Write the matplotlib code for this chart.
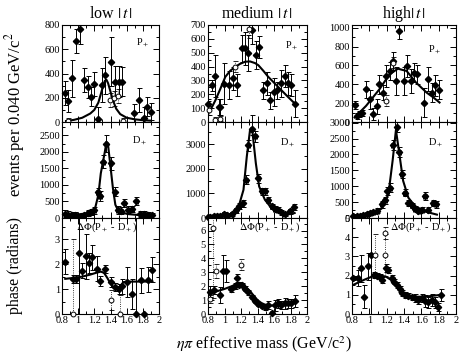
import matplotlib
matplotlib.use("Agg")
import matplotlib.pyplot as plt
from matplotlib.ticker import MultipleLocator, FuncFormatter

plt.rcParams['font.family'] = ['Liberation Serif', 'DejaVu Serif']
plt.rcParams['mathtext.fontset'] = 'stix'

# ---------------- data ----------------
col_titles = [r"low $|\,t\,|$", r"medium $|\,t\,|$", r"high$|\,t\,|$"]

# low |t|, P+
lo_P_x = [0.84, 0.88, 0.92, 0.97, 1.02, 1.07, 1.12, 1.16, 1.20, 1.24, 1.29, 1.33, 1.41, 1.46, 1.50, 1.54, 1.69, 1.75, 1.81, 1.85, 1.90]
lo_P_y = [242, 173, 360, 671, 765, 347, 292, 209, 311, 22, 305, 385, 498, 333, 333, 333, 72, 182, 30, 127, 85]
lo_P_e = [100, 90, 150, 100, 120, 100, 90, 80, 100, 100, 140, 150, 200, 130, 130, 120, 80, 100, 90, 80, 70]
lo_P_cx = [0.88, 1.39, 1.44, 1.49, 1.56]
lo_P_cy = [10, 181, 195, 215, 10]
lo_P_ce = [20, 60, 60, 60, 20]
lo_P_fx = [0.85, 0.95, 1.05, 1.15, 1.20, 1.25, 1.28, 1.31, 1.33, 1.35, 1.37, 1.40, 1.43, 1.47, 1.52, 1.60, 1.70, 1.80, 1.90]
lo_P_fy = [8, 18, 35, 70, 100, 160, 230, 300, 340, 348, 320, 250, 180, 110, 65, 35, 22, 15, 11]

# low |t|, D+
lo_D_x = [0.84, 0.88, 0.92, 0.96, 1.02, 1.07, 1.12, 1.16, 1.20, 1.24, 1.27, 1.31, 1.35, 1.40, 1.45, 1.49, 1.53, 1.57, 1.62, 1.67, 1.72, 1.77, 1.82, 1.86, 1.91]
lo_D_y = [130, 100, 100, 100, 0, 80, 150, 180, 230, 800, 670, 1700, 2250, 1650, 800, 250, 220, 450, 250, 270, 520, 130, 120, 100, 80]
lo_D_e = [100, 100, 90, 90, 80, 80, 90, 100, 100, 120, 150, 200, 250, 200, 150, 120, 100, 120, 100, 100, 120, 90, 90, 80, 80]
lo_D_fx = [0.85, 1.00, 1.15, 1.21, 1.25, 1.28, 1.33, 1.35, 1.37, 1.40, 1.43, 1.46, 1.50, 1.61, 1.75, 1.90]
lo_D_fy = [100, 110, 150, 300, 700, 1350, 2000, 2300, 2200, 1550, 900, 400, 200, 120, 90, 70]

# low |t|, phase
lo_F_x = [0.84, 0.93, 0.97, 1.01, 1.05, 1.10, 1.13, 1.17, 1.23, 1.275, 1.33, 1.40, 1.45, 1.50, 1.545, 1.61, 1.67, 1.72, 1.775, 1.82, 1.86, 1.91]
lo_F_y = [2.1, 1.41, 1.41, 2.43, 1.74, 2.31, 2.03, 2.27, 1.81, 1.32, 1.81, 1.28, 1.08, 1.02, 1.11, 1.28, 0.79, 0.0, 1.35, 0.0, 1.37, 1.78]
lo_F_e = [0.5, 0.15, 0.15, 2.5, 0.3, 0.9, 0.4, 0.5, 0.5, 0.2, 0.15, 0.2, 0.15, 0.2, 0.3, 0.6, 0.6, 4.0, 0.5, 0.0, 0.5, 0.5]
lo_F_cx = [0.93, 1.41, 1.52]
lo_F_cy = [0.0, 0.55, 0.0]
lo_F_ce = [3.0, 0.4, 0.75]
lo_F_fx = [0.84, 0.95, 1.05, 1.15, 1.22, 1.28, 1.32, 1.36, 1.40, 1.44, 1.48, 1.52, 1.56, 1.65, 1.75, 1.85, 1.92]
lo_F_fy = [1.41, 1.45, 1.50, 1.58, 1.65, 1.70, 1.65, 1.45, 1.22, 1.05, 1.02, 1.12, 1.28, 1.30, 1.30, 1.30, 1.30]

# medium |t|, P+
me_P_x = [0.80, 0.85, 0.89, 0.93, 0.95, 0.99, 1.06, 1.10, 1.15, 1.21, 1.25, 1.29, 1.33, 1.33, 1.38, 1.42, 1.47, 1.51, 1.55, 1.60, 1.64, 1.69, 1.73, 1.77, 1.81, 1.86]
me_P_y = [128, 265, 331, 109, 109, 277, 265, 314, 265, 531, 531, 495, 665, -48, 483, 543, 229, 278, 157, 217, 229, 278, 331, 278, 265, 133]
me_P_e = [40, 40, 150, 60, 60, 150, 100, 80, 80, 100, 120, 130, 100, 100, 100, 80, 60, 80, 60, 100, 60, 100, 80, 80, 80, 100]
me_P_cx = [0.81, 0.89, 0.95, 1.13, 1.30]
me_P_cy = [84, 17, 24, 400, 669]
me_P_ce = [30, 20, 20, 40, 60]
me_P_fx = [0.80, 0.85, 0.89, 0.95, 1.01, 1.07, 1.13, 1.19, 1.25, 1.31, 1.37, 1.41, 1.47, 1.53, 1.59, 1.65, 1.71, 1.77, 1.84]
me_P_fy = [60, 110, 157, 240, 326, 370, 398, 420, 435, 437, 425, 410, 370, 326, 290, 253, 217, 181, 140]

# medium |t|, D+
me_D_x = [0.80, 0.83, 0.87, 0.905, 0.945, 0.99, 1.03, 1.09, 1.14, 1.18, 1.22, 1.26, 1.29, 1.33, 1.37, 1.41, 1.45, 1.49, 1.53, 1.57, 1.61, 1.65, 1.69, 1.73, 1.79, 1.84]
me_D_y = [27, 27, 67, 67, 94, 161, 134, 161, 310, 500, 600, 1550, 2960, 3630, 3320, 1610, 1080, 1080, 740, 470, 380, 340, 230, 160, 270, 440]
me_D_e = [60, 60, 60, 60, 70, 80, 80, 80, 100, 120, 150, 180, 220, 250, 220, 180, 150, 130, 120, 100, 100, 100, 90, 90, 100, 120]
me_D_fx = [0.80, 1.09, 1.17, 1.23, 1.27, 1.31, 1.34, 1.38, 1.42, 1.49, 1.57, 1.67, 1.75, 1.85]
me_D_fy = [27, 135, 444, 1143, 2490, 3590, 3460, 2220, 1280, 740, 400, 200, 135, 200]

# medium |t|, phase
me_F_x = [0.82, 0.87, 0.945, 0.98, 1.02, 1.075, 1.13, 1.155, 1.18, 1.21, 1.25, 1.29, 1.33, 1.37, 1.41, 1.45, 1.49, 1.53, 1.57, 1.61, 1.65, 1.69, 1.73, 1.77, 1.81, 1.85]
me_F_y = [1.6, 1.71, 1.36, 3.07, 3.07, 1.79, 2.02, 2.6, 2.12, 2.07, 1.83, 1.55, 1.24, 0.93, 0.69, 0.6, 0.52, 0.64, 0.05, 0.64, 0.76, 0.64, 0.76, 0.76, 0.76, 0.93]
me_F_e = [0.4, 0.3, 0.6, 1.2, 0.8, 0.2, 0.2, 0.3, 0.15, 0.15, 0.15, 0.15, 0.15, 0.15, 0.15, 0.15, 0.2, 0.3, 0.2, 0.4, 0.3, 0.3, 0.4, 0.3, 0.3, 0.4]
me_F_cx = [0.82, 0.86, 0.90, 1.20]
me_F_cy = [1.07, 6.17, 3.07, 3.55]
me_F_ce = [0.3, 5.0, 0.5, 0.4]
me_F_fx = [0.81, 0.90, 1.00, 1.08, 1.15, 1.19, 1.25, 1.30, 1.35, 1.40, 1.45, 1.50, 1.55, 1.62, 1.70, 1.78, 1.85]
me_F_fy = [1.48, 1.62, 1.80, 1.98, 2.15, 2.19, 2.00, 1.70, 1.35, 1.00, 0.78, 0.65, 0.60, 0.62, 0.68, 0.75, 0.83]

# high |t|, P+
hi_P_x = [0.83, 0.855, 0.886, 0.917, 0.963, 1.009, 1.047, 1.086, 1.117, 1.155, 1.194, 1.24, 1.27, 1.309, 1.347, 1.405, 1.43, 1.48, 1.52, 1.547, 1.636, 1.674, 1.724, 1.762, 1.809]
hi_P_y = [178, 66, 84, 94, 348, 242, 84, 165, 401, 313, 489, 542, 648, 436, 965, 436, 595, 436, 525, 507, 207, 454, 313, 390, 341]
hi_P_e = [40, 30, 30, 30, 90, 100, 60, 80, 100, 80, 120, 100, 100, 150, 80, 150, 120, 130, 100, 100, 150, 130, 100, 110, 100]
hi_P_cx = [1.19, 1.27]
hi_P_cy = [225, 630]
hi_P_ce = [60, 60]
hi_P_fx = [0.83, 0.963, 1.117, 1.233, 1.33, 1.43, 1.54, 1.66, 1.74, 1.81]
hi_P_fy = [48, 172, 348, 507, 566, 542, 418, 313, 260, 207]

# high |t|, D+
hi_D_x = [0.815, 0.853, 0.892, 0.93, 0.969, 1.007, 1.046, 1.092, 1.142, 1.18, 1.207, 1.238, 1.269, 1.315, 1.346, 1.373, 1.41, 1.45, 1.49, 1.527, 1.566, 1.605, 1.643, 1.682, 1.732, 1.77]
hi_D_y = [53, 74, 74, 106, 128, 160, 191, 234, 425, 553, 851, 958, 2290, 2870, 2070, 1380, 800, 480, 404, 298, 234, 266, 690, 266, 480, 425]
hi_D_e = [60, 60, 60, 60, 60, 70, 70, 80, 100, 100, 120, 130, 150, 180, 150, 130, 100, 90, 80, 80, 80, 80, 120, 80, 100, 100]
hi_D_fx = [0.815, 1.046, 1.142, 1.22, 1.269, 1.307, 1.346, 1.39, 1.45, 1.527, 1.66, 1.78]
hi_D_fy = [32, 128, 298, 745, 1810, 2770, 2020, 1170, 640, 372, 191, 106]

# high |t|, phase
hi_F_x = [0.815, 0.865, 0.904, 0.942, 0.98, 1.02, 1.057, 1.085, 1.123, 1.15, 1.189, 1.22, 1.258, 1.288, 1.315, 1.354, 1.38, 1.41, 1.45, 1.49, 1.527, 1.565, 1.604, 1.642, 1.68, 1.72, 1.757, 1.795, 1.826]
hi_F_y = [1.87, 1.87, 2.39, 0.91, 2.48, 3.09, 2.04, 2.0, 1.95, 1.78, 2.39, 2.3, 1.87, 1.69, 1.52, 1.31, 1.08, 1.0, 0.96, 0.86, 0.82, 0.73, 0.82, 0.68, 0.61, 0.73, 0.61, 0.38, 1.0]
hi_F_e = [0.1, 0.4, 0.7, 0.6, 0.7, 3.2, 0.15, 0.15, 0.15, 0.15, 0.2, 0.15, 0.15, 0.15, 0.15, 0.15, 0.15, 0.15, 0.15, 0.15, 0.2, 0.2, 0.2, 0.3, 0.3, 0.3, 0.3, 0.2, 0.3]
hi_F_cx = [1.065, 1.18, 1.18]
hi_F_cy = [3.09, 3.09, 4.22]
hi_F_ce = [1.1, 1.1, 0.3]
hi_F_fx = [0.815, 0.94, 1.08, 1.19, 1.26, 1.33, 1.39, 1.49, 1.64, 1.83]
hi_F_fy = [1.52, 1.78, 2.04, 1.95, 1.75, 1.40, 1.08, 0.90, 0.90, 1.00]

x_ticks = [0.8, 1.0, 1.2, 1.4, 1.6, 1.8, 2.0]
x_ticklabels = ["0.8", "1", "1.2", "1.4", "1.6", "1.8", "2"]

# ---------------- layout ----------------
W, H = 463, 358
fig = plt.figure(figsize=(W / 100, H / 100), dpi=100)

col_px = [(62, 97), (208, 99), (352, 104)]
row_px = [(25, 97), (122, 96), (218, 96)]

panels = [
    [(lo_P_x, lo_P_y, lo_P_e, lo_P_cx, lo_P_cy, lo_P_ce, lo_P_fx, lo_P_fy),
     (lo_D_x, lo_D_y, lo_D_e, None, None, None, lo_D_fx, lo_D_fy),
     (lo_F_x, lo_F_y, lo_F_e, lo_F_cx, lo_F_cy, lo_F_ce, lo_F_fx, lo_F_fy)],
    [(me_P_x, me_P_y, me_P_e, me_P_cx, me_P_cy, me_P_ce, me_P_fx, me_P_fy),
     (me_D_x, me_D_y, me_D_e, None, None, None, me_D_fx, me_D_fy),
     (me_F_x, me_F_y, me_F_e, me_F_cx, me_F_cy, me_F_ce, me_F_fx, me_F_fy)],
    [(hi_P_x, hi_P_y, hi_P_e, hi_P_cx, hi_P_cy, hi_P_ce, hi_P_fx, hi_P_fy),
     (hi_D_x, hi_D_y, hi_D_e, None, None, None, hi_D_fx, hi_D_fy),
     (hi_F_x, hi_F_y, hi_F_e, hi_F_cx, hi_F_cy, hi_F_ce, hi_F_fx, hi_F_fy)],
]

ylims = [[(0, 800), (0, 2900), (0, 3.85)],
         [(0, 700), (0, 3900), (0, 6.9)],
         [(0, 1030), (0, 3020), (0, 5.0)]]
ymaj = [[200, 500, 1], [100, 1000, 1], [200, 500, 1]]
ymin = [[100, 250, 0.5], [50, 500, 0.5], [100, 250, 0.5]]
plabel_pos = [[(0.83, 0.82), (0.80, 0.80), (0.46, 0.90)],
              [(0.85, 0.78), (0.80, 0.78), (0.62, 0.90)],
              [(0.80, 0.74), (0.80, 0.78), (0.66, 0.90)]]
plabels = ["P$_+$", "D$_+$", r"$\Delta\Phi$(P$_+$ - D$_+$)"]


def fmt_y(v, pos):
    if abs(v - round(v)) < 1e-9:
        return "%d" % int(round(v))
    return "%g" % v


for c in range(3):
    for r in range(3):
        lx, wx = col_px[c]
        ty, hy = row_px[r]
        ax = fig.add_axes([lx / W, (H - ty - hy) / H, wx / W, hy / H])
        x, y, e, cx, cy, ce, fx, fy = panels[c][r]
        ax.set_xlim(0.8, 2.0)
        ax.set_ylim(*ylims[c][r])
        xerr = 0.02 if r == 1 else None
        ax.errorbar(x, y, yerr=e, xerr=xerr, fmt='none', ecolor='black',
                    elinewidth=0.7, capsize=1.8, capthick=0.7, zorder=2)
        ax.plot(x, y, linestyle='none', marker='D', markersize=3.2,
                color='black', clip_on=False, zorder=4)
        if cx is not None:
            ax.errorbar(cx, cy, yerr=ce, fmt='none', ecolor='black',
                        elinewidth=0.6, capsize=1.8, capthick=0.6,
                        linestyle=':', zorder=2)
            for line in ax.containers[-1].lines[2]:
                line.set_linestyle(':')
            ax.plot(cx, cy, linestyle='none', marker='o', markersize=3.5,
                    mfc='white', mec='black', mew=0.7, clip_on=False, zorder=5)
        ax.plot(fx, fy, color='black', lw=1.5, zorder=3)

        ax.xaxis.set_major_locator(MultipleLocator(0.2))
        ax.xaxis.set_minor_locator(MultipleLocator(0.1))
        ax.yaxis.set_major_locator(MultipleLocator(ymaj[c][r]))
        ax.yaxis.set_minor_locator(MultipleLocator(ymin[c][r]))
        ax.tick_params(which='both', direction='in', top=True, right=True,
                       width=0.7, labelsize=7.5, pad=1.5)
        ax.tick_params(which='major', length=4)
        ax.tick_params(which='minor', length=2)
        ax.yaxis.set_major_formatter(FuncFormatter(fmt_y))
        if r == 2:
            ax.set_xticks(x_ticks)
            ax.set_xticklabels(x_ticklabels)
        else:
            ax.tick_params(axis='x', labelbottom=False)
        for s in ax.spines.values():
            s.set_linewidth(0.8)
        px, py = plabel_pos[c][r]
        ax.text(px, py, plabels[r], transform=ax.transAxes, ha='center',
                va='center', fontsize=7.5)
        if r == 0:
            ax.set_title(col_titles[c], fontsize=11.5, pad=5)

fig.text(15 / W, 1 - 115 / H, "events per 0.040 GeV/c$^2$", rotation=90,
         ha='center', va='center', fontsize=12)
fig.text(15 / W, 1 - 266 / H, "phase (radians)", rotation=90,
         ha='center', va='center', fontsize=11.5)
fig.text(264 / W, 1 - 344 / H, r"$\eta\pi$ effective mass (GeV/c$^2$)",
         ha='center', va='center', fontsize=11.5)

fig.savefig("out.png", dpi=100)
